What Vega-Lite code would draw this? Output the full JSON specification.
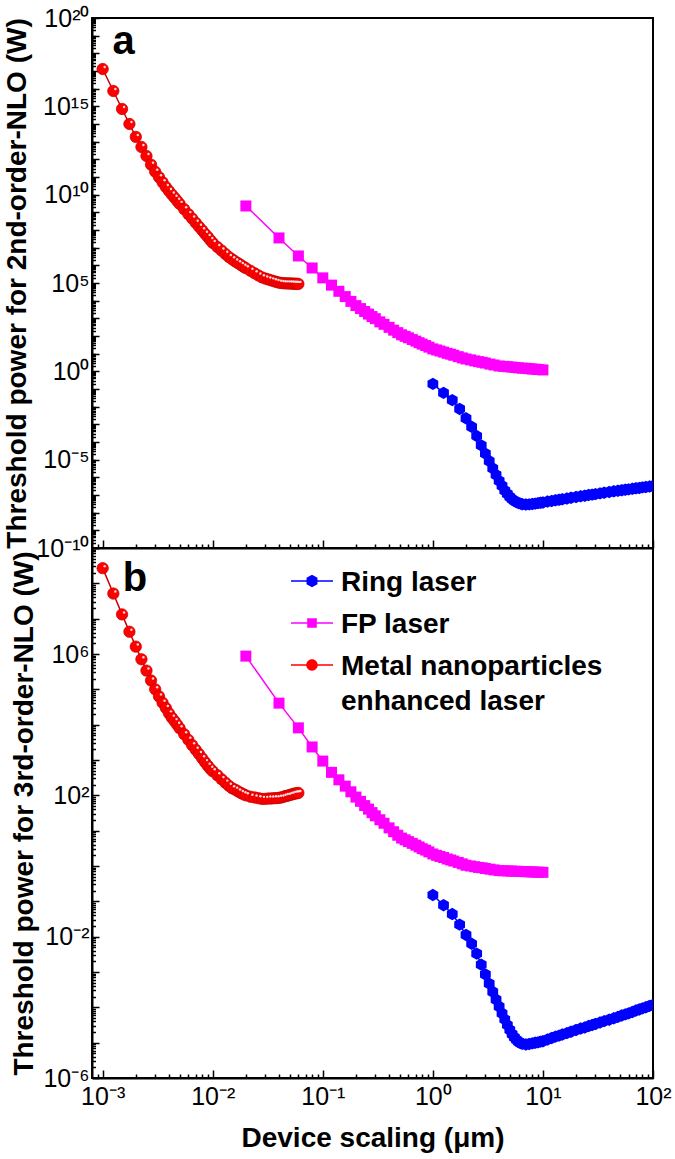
{
  "$schema": "https://vega.github.io/schema/vega-lite/v6.json",
  "background": "white",
  "padding": {"left": 2, "top": 5, "right": 0, "bottom": 0},
  "bounds": "flush",
  "spacing": 0,
  "config": {
    "font": "Liberation Sans",
    "view": {"stroke": "black", "strokeWidth": 2},
    "style": {"guide-label": {"lineHeight": 35}},
    "axis": {"domainColor": "black", "domainWidth": 2, "tickColor": "black", "tickWidth": 1.5, "labelColor": "black", "titleColor": "black", "labelFont": "Liberation Sans", "titleFont": "Liberation Sans", "labelFontSize": 25, "titleFontSize": 28, "titleFontWeight": "bold", "grid": false, "labelFlush": false, "labelOverlap": false},
    "legend": {"orient": "none", "legendX": 206, "legendY": 537, "title": null, "padding": 0,
      "labelFontSize": 28, "labelFontWeight": "bold", "labelFont": "Liberation Sans", "labelColor": "black", "labelLimit": 500, "labelBaseline": "top",
      "labelOffset": 15, "rowPadding": -14.5, "symbolSize": 144, "symbolOpacity": 1, "symbolStrokeWidth": 0}
  },
  "datasets": {
    "lab": [{"t": "a", "x": 0.00123, "p2": 9.1e17}, {"t": "b", "x": 0.00152, "p3": 6.0e7}],
    "d": [
      {"s": "Metal nanoparticles enhanced laser", "x": 0.001, "p2": 1.29e17, "p3": 2.69e8},
      {"s": "Metal nanoparticles enhanced laser", "x": 0.00125, "p2": 7.41e15, "p3": 5.13e7},
      {"s": "Metal nanoparticles enhanced laser", "x": 0.0015, "p2": 7.08e14, "p3": 1.32e7},
      {"s": "Metal nanoparticles enhanced laser", "x": 0.00175, "p2": 1.0e14, "p3": 4.27e6},
      {"s": "Metal nanoparticles enhanced laser", "x": 0.002, "p2": 1.86e13, "p3": 1.62e6},
      {"s": "Metal nanoparticles enhanced laser", "x": 0.00225, "p2": 5.01e12, "p3": 7.08e5},
      {"s": "Metal nanoparticles enhanced laser", "x": 0.0025, "p2": 1.55e12, "p3": 3.39e5},
      {"s": "Metal nanoparticles enhanced laser", "x": 0.00275, "p2": 5.01e11, "p3": 1.78e5},
      {"s": "Metal nanoparticles enhanced laser", "x": 0.003, "p2": 2.0e11, "p3": 1.0e5},
      {"s": "Metal nanoparticles enhanced laser", "x": 0.00325, "p2": 9.77e10, "p3": 6.31e4},
      {"s": "Metal nanoparticles enhanced laser", "x": 0.0035, "p2": 5.01e10, "p3": 4.17e4},
      {"s": "Metal nanoparticles enhanced laser", "x": 0.00375, "p2": 2.69e10, "p3": 2.95e4},
      {"s": "Metal nanoparticles enhanced laser", "x": 0.004, "p2": 1.62e10, "p3": 2.09e4},
      {"s": "Metal nanoparticles enhanced laser", "x": 0.00425, "p2": 1.02e10, "p3": 1.58e4},
      {"s": "Metal nanoparticles enhanced laser", "x": 0.0045, "p2": 6.76e9, "p3": 1.26e4},
      {"s": "Metal nanoparticles enhanced laser", "x": 0.00475, "p2": 4.47e9, "p3": 1.0e4},
      {"s": "Metal nanoparticles enhanced laser", "x": 0.005, "p2": 3.02e9, "p3": 7.94e3},
      {"s": "Metal nanoparticles enhanced laser", "x": 0.0055, "p2": 1.51e9, "p3": 5.37e3},
      {"s": "Metal nanoparticles enhanced laser", "x": 0.006, "p2": 7.94e8, "p3": 3.72e3},
      {"s": "Metal nanoparticles enhanced laser", "x": 0.0065, "p2": 4.47e8, "p3": 2.63e3},
      {"s": "Metal nanoparticles enhanced laser", "x": 0.007, "p2": 2.57e8, "p3": 1.95e3},
      {"s": "Metal nanoparticles enhanced laser", "x": 0.0075, "p2": 1.55e8, "p3": 1.48e3},
      {"s": "Metal nanoparticles enhanced laser", "x": 0.008, "p2": 9.77e7, "p3": 1.12e3},
      {"s": "Metal nanoparticles enhanced laser", "x": 0.0085, "p2": 6.17e7, "p3": 871},
      {"s": "Metal nanoparticles enhanced laser", "x": 0.009, "p2": 4.07e7, "p3": 692},
      {"s": "Metal nanoparticles enhanced laser", "x": 0.0095, "p2": 2.69e7, "p3": 562},
      {"s": "Metal nanoparticles enhanced laser", "x": 0.01, "p2": 1.86e7, "p3": 479},
      {"s": "Metal nanoparticles enhanced laser", "x": 0.011, "p2": 1.1e7, "p3": 372},
      {"s": "Metal nanoparticles enhanced laser", "x": 0.012, "p2": 6.92e6, "p3": 288},
      {"s": "Metal nanoparticles enhanced laser", "x": 0.013, "p2": 4.47e6, "p3": 229},
      {"s": "Metal nanoparticles enhanced laser", "x": 0.014, "p2": 2.95e6, "p3": 186},
      {"s": "Metal nanoparticles enhanced laser", "x": 0.015, "p2": 2.19e6, "p3": 158},
      {"s": "Metal nanoparticles enhanced laser", "x": 0.016, "p2": 1.66e6, "p3": 145},
      {"s": "Metal nanoparticles enhanced laser", "x": 0.017, "p2": 1.32e6, "p3": 129},
      {"s": "Metal nanoparticles enhanced laser", "x": 0.018, "p2": 1.05e6, "p3": 117},
      {"s": "Metal nanoparticles enhanced laser", "x": 0.019, "p2": 8.32e5, "p3": 107},
      {"s": "Metal nanoparticles enhanced laser", "x": 0.02, "p2": 6.92e5, "p3": 100},
      {"s": "Metal nanoparticles enhanced laser", "x": 0.022, "p2": 4.9e5, "p3": 91.2},
      {"s": "Metal nanoparticles enhanced laser", "x": 0.024, "p2": 3.55e5, "p3": 87.1},
      {"s": "Metal nanoparticles enhanced laser", "x": 0.026, "p2": 2.69e5, "p3": 83.2},
      {"s": "Metal nanoparticles enhanced laser", "x": 0.028, "p2": 2.09e5, "p3": 79.4},
      {"s": "Metal nanoparticles enhanced laser", "x": 0.03, "p2": 1.78e5, "p3": 79.4},
      {"s": "Metal nanoparticles enhanced laser", "x": 0.032, "p2": 1.58e5, "p3": 81.3},
      {"s": "Metal nanoparticles enhanced laser", "x": 0.034, "p2": 1.41e5, "p3": 81.3},
      {"s": "Metal nanoparticles enhanced laser", "x": 0.036, "p2": 1.26e5, "p3": 83.2},
      {"s": "Metal nanoparticles enhanced laser", "x": 0.038, "p2": 1.15e5, "p3": 83.2},
      {"s": "Metal nanoparticles enhanced laser", "x": 0.04, "p2": 1.05e5, "p3": 85.1},
      {"s": "Metal nanoparticles enhanced laser", "x": 0.042, "p2": 1.0e5, "p3": 87.1},
      {"s": "Metal nanoparticles enhanced laser", "x": 0.044, "p2": 9.77e4, "p3": 91.2},
      {"s": "Metal nanoparticles enhanced laser", "x": 0.046, "p2": 9.55e4, "p3": 95.5},
      {"s": "Metal nanoparticles enhanced laser", "x": 0.048, "p2": 9.55e4, "p3": 97.7},
      {"s": "Metal nanoparticles enhanced laser", "x": 0.05, "p2": 9.33e4, "p3": 102},
      {"s": "Metal nanoparticles enhanced laser", "x": 0.052, "p2": 9.33e4, "p3": 105},
      {"s": "Metal nanoparticles enhanced laser", "x": 0.054, "p2": 9.12e4, "p3": 110},
      {"s": "Metal nanoparticles enhanced laser", "x": 0.056, "p2": 9.12e4, "p3": 112},
      {"s": "Metal nanoparticles enhanced laser", "x": 0.058, "p2": 8.91e4, "p3": 115},
      {"s": "Metal nanoparticles enhanced laser", "x": 0.06, "p2": 8.91e4, "p3": 117},
      {"s": "FP laser", "x": 0.02, "p2": 2.29e9, "p3": 8.71e5},
      {"s": "FP laser", "x": 0.04, "p2": 3.55e7, "p3": 4.07e4},
      {"s": "FP laser", "x": 0.06, "p2": 3.39e6, "p3": 8.13e3},
      {"s": "FP laser", "x": 0.08, "p2": 7.08e5, "p3": 2.34e3},
      {"s": "FP laser", "x": 0.1, "p2": 1.95e5, "p3": 933},
      {"s": "FP laser", "x": 0.12, "p2": 7.59e4, "p3": 447},
      {"s": "FP laser", "x": 0.14, "p2": 3.39e4, "p3": 275},
      {"s": "FP laser", "x": 0.16, "p2": 1.7e4, "p3": 182},
      {"s": "FP laser", "x": 0.18, "p2": 9.12e3, "p3": 126},
      {"s": "FP laser", "x": 0.2, "p2": 5.25e3, "p3": 89.1},
      {"s": "FP laser", "x": 0.22, "p2": 3.55e3, "p3": 67.6},
      {"s": "FP laser", "x": 0.24, "p2": 2.45e3, "p3": 51.3},
      {"s": "FP laser", "x": 0.26, "p2": 1.74e3, "p3": 40.7},
      {"s": "FP laser", "x": 0.28, "p2": 1.26e3, "p3": 32.4},
      {"s": "FP laser", "x": 0.3, "p2": 955, "p3": 26.3},
      {"s": "FP laser", "x": 0.33, "p2": 631, "p3": 20.4},
      {"s": "FP laser", "x": 0.36, "p2": 457, "p3": 16.2},
      {"s": "FP laser", "x": 0.4, "p2": 309, "p3": 12.0},
      {"s": "FP laser", "x": 0.44, "p2": 214, "p3": 9.33},
      {"s": "FP laser", "x": 0.48, "p2": 155, "p3": 7.41},
      {"s": "FP laser", "x": 0.52, "p2": 117, "p3": 6.17},
      {"s": "FP laser", "x": 0.56, "p2": 95.5, "p3": 5.5},
      {"s": "FP laser", "x": 0.6, "p2": 79.4, "p3": 4.9},
      {"s": "FP laser", "x": 0.65, "p2": 63.1, "p3": 4.37},
      {"s": "FP laser", "x": 0.7, "p2": 51.3, "p3": 3.89},
      {"s": "FP laser", "x": 0.75, "p2": 41.7, "p3": 3.47},
      {"s": "FP laser", "x": 0.8, "p2": 34.7, "p3": 3.09},
      {"s": "FP laser", "x": 0.86, "p2": 28.8, "p3": 2.82},
      {"s": "FP laser", "x": 0.92, "p2": 23.4, "p3": 2.51},
      {"s": "FP laser", "x": 1.0, "p2": 18.6, "p3": 2.19},
      {"s": "FP laser", "x": 1.08, "p2": 16.2, "p3": 2.0},
      {"s": "FP laser", "x": 1.16, "p2": 14.1, "p3": 1.86},
      {"s": "FP laser", "x": 1.25, "p2": 12.3, "p3": 1.74},
      {"s": "FP laser", "x": 1.35, "p2": 10.5, "p3": 1.58},
      {"s": "FP laser", "x": 1.45, "p2": 9.33, "p3": 1.48},
      {"s": "FP laser", "x": 1.55, "p2": 8.13, "p3": 1.38},
      {"s": "FP laser", "x": 1.7, "p2": 6.76, "p3": 1.26},
      {"s": "FP laser", "x": 1.85, "p2": 5.75, "p3": 1.15},
      {"s": "FP laser", "x": 2.0, "p2": 5.01, "p3": 1.05},
      {"s": "FP laser", "x": 2.2, "p2": 4.47, "p3": 1.0},
      {"s": "FP laser", "x": 2.4, "p2": 3.89, "p3": 0.955},
      {"s": "FP laser", "x": 2.6, "p2": 3.55, "p3": 0.912},
      {"s": "FP laser", "x": 2.8, "p2": 3.24, "p3": 0.891},
      {"s": "FP laser", "x": 3.0, "p2": 2.95, "p3": 0.851},
      {"s": "FP laser", "x": 3.3, "p2": 2.57, "p3": 0.813},
      {"s": "FP laser", "x": 3.6, "p2": 2.29, "p3": 0.776},
      {"s": "FP laser", "x": 4.0, "p2": 2.0, "p3": 0.741},
      {"s": "FP laser", "x": 4.4, "p2": 1.91, "p3": 0.733},
      {"s": "FP laser", "x": 4.8, "p2": 1.82, "p3": 0.724},
      {"s": "FP laser", "x": 5.2, "p2": 1.74, "p3": 0.718},
      {"s": "FP laser", "x": 5.6, "p2": 1.66, "p3": 0.711},
      {"s": "FP laser", "x": 6.0, "p2": 1.58, "p3": 0.705},
      {"s": "FP laser", "x": 6.5, "p2": 1.51, "p3": 0.697},
      {"s": "FP laser", "x": 7.0, "p2": 1.48, "p3": 0.692},
      {"s": "FP laser", "x": 7.5, "p2": 1.41, "p3": 0.685},
      {"s": "FP laser", "x": 8.0, "p2": 1.35, "p3": 0.679},
      {"s": "FP laser", "x": 8.6, "p2": 1.32, "p3": 0.673},
      {"s": "FP laser", "x": 9.2, "p2": 1.26, "p3": 0.667},
      {"s": "FP laser", "x": 10, "p2": 1.2, "p3": 0.661},
      {"s": "Ring laser", "x": 1, "p2": 0.195, "p3": 0.151},
      {"s": "Ring laser", "x": 1.25, "p2": 0.0603, "p3": 0.0776},
      {"s": "Ring laser", "x": 1.5, "p2": 0.0234, "p3": 0.0437},
      {"s": "Ring laser", "x": 1.75, "p2": 7.41e-3, "p3": 0.0219},
      {"s": "Ring laser", "x": 2, "p2": 2.19e-3, "p3": 0.0112},
      {"s": "Ring laser", "x": 2.25, "p2": 7.24e-4, "p3": 6.31e-3},
      {"s": "Ring laser", "x": 2.5, "p2": 2.19e-4, "p3": 3.31e-3},
      {"s": "Ring laser", "x": 2.75, "p2": 6.46e-5, "p3": 1.62e-3},
      {"s": "Ring laser", "x": 3, "p2": 2.19e-5, "p3": 8.51e-4},
      {"s": "Ring laser", "x": 3.25, "p2": 8.32e-6, "p3": 4.68e-4},
      {"s": "Ring laser", "x": 3.5, "p2": 3.24e-6, "p3": 2.75e-4},
      {"s": "Ring laser", "x": 3.75, "p2": 1.38e-6, "p3": 1.66e-4},
      {"s": "Ring laser", "x": 4, "p2": 6.31e-7, "p3": 1.05e-4},
      {"s": "Ring laser", "x": 4.25, "p2": 3.31e-7, "p3": 6.76e-5},
      {"s": "Ring laser", "x": 4.5, "p2": 1.78e-7, "p3": 4.57e-5},
      {"s": "Ring laser", "x": 4.75, "p2": 1.15e-7, "p3": 3.16e-5},
      {"s": "Ring laser", "x": 5, "p2": 7.76e-8, "p3": 2.29e-5},
      {"s": "Ring laser", "x": 5.25, "p2": 5.75e-8, "p3": 1.74e-5},
      {"s": "Ring laser", "x": 5.5, "p2": 4.68e-8, "p3": 1.41e-5},
      {"s": "Ring laser", "x": 5.75, "p2": 3.98e-8, "p3": 1.2e-5},
      {"s": "Ring laser", "x": 6, "p2": 3.47e-8, "p3": 1.05e-5},
      {"s": "Ring laser", "x": 6.25, "p2": 3.24e-8, "p3": 9.77e-6},
      {"s": "Ring laser", "x": 6.5, "p2": 3.02e-8, "p3": 9.33e-6},
      {"s": "Ring laser", "x": 7, "p2": 2.88e-8, "p3": 8.91e-6},
      {"s": "Ring laser", "x": 7.5, "p2": 2.95e-8, "p3": 9.2e-6},
      {"s": "Ring laser", "x": 8, "p2": 3.09e-8, "p3": 9.55e-6},
      {"s": "Ring laser", "x": 8.5, "p2": 3.24e-8, "p3": 1.0e-5},
      {"s": "Ring laser", "x": 9, "p2": 3.47e-8, "p3": 1.02e-5},
      {"s": "Ring laser", "x": 9.5, "p2": 3.63e-8, "p3": 1.07e-5},
      {"s": "Ring laser", "x": 10, "p2": 3.8e-8, "p3": 1.1e-5},
      {"s": "Ring laser", "x": 11, "p2": 4.27e-8, "p3": 1.23e-5},
      {"s": "Ring laser", "x": 12, "p2": 4.57e-8, "p3": 1.35e-5},
      {"s": "Ring laser", "x": 13, "p2": 5.01e-8, "p3": 1.48e-5},
      {"s": "Ring laser", "x": 14, "p2": 5.37e-8, "p3": 1.58e-5},
      {"s": "Ring laser", "x": 15, "p2": 5.75e-8, "p3": 1.7e-5},
      {"s": "Ring laser", "x": 16.5, "p2": 6.31e-8, "p3": 1.86e-5},
      {"s": "Ring laser", "x": 18, "p2": 6.92e-8, "p3": 2.04e-5},
      {"s": "Ring laser", "x": 20, "p2": 7.76e-8, "p3": 2.29e-5},
      {"s": "Ring laser", "x": 22, "p2": 8.51e-8, "p3": 2.51e-5},
      {"s": "Ring laser", "x": 24, "p2": 9.12e-8, "p3": 2.69e-5},
      {"s": "Ring laser", "x": 26, "p2": 1.0e-7, "p3": 2.95e-5},
      {"s": "Ring laser", "x": 28, "p2": 1.05e-7, "p3": 3.16e-5},
      {"s": "Ring laser", "x": 30, "p2": 1.12e-7, "p3": 3.39e-5},
      {"s": "Ring laser", "x": 33, "p2": 1.23e-7, "p3": 3.72e-5},
      {"s": "Ring laser", "x": 36, "p2": 1.35e-7, "p3": 4.07e-5},
      {"s": "Ring laser", "x": 40, "p2": 1.48e-7, "p3": 4.47e-5},
      {"s": "Ring laser", "x": 44, "p2": 1.62e-7, "p3": 4.9e-5},
      {"s": "Ring laser", "x": 48, "p2": 1.74e-7, "p3": 5.37e-5},
      {"s": "Ring laser", "x": 52, "p2": 1.86e-7, "p3": 5.89e-5},
      {"s": "Ring laser", "x": 56, "p2": 2.0e-7, "p3": 6.31e-5},
      {"s": "Ring laser", "x": 60, "p2": 2.09e-7, "p3": 6.76e-5},
      {"s": "Ring laser", "x": 65, "p2": 2.24e-7, "p3": 7.41e-5},
      {"s": "Ring laser", "x": 70, "p2": 2.4e-7, "p3": 8.13e-5},
      {"s": "Ring laser", "x": 75, "p2": 2.51e-7, "p3": 8.71e-5},
      {"s": "Ring laser", "x": 80, "p2": 2.69e-7, "p3": 9.33e-5},
      {"s": "Ring laser", "x": 86, "p2": 2.82e-7, "p3": 1.0e-4},
      {"s": "Ring laser", "x": 93, "p2": 3.02e-7, "p3": 1.1e-4},
      {"s": "Ring laser", "x": 100, "p2": 3.24e-7, "p3": 1.17e-4}
    ]
  },
  "resolve": {"scale": {"color": "shared", "shape": "shared", "stroke": "independent"}, "legend": {"color": "shared", "shape": "shared", "stroke": "independent"}},
  "vconcat": [
    {
      "width": 561,
      "height": 530,
      "encoding": {
        "x": {"field": "x", "type": "quantitative", "scale": {"type": "log", "domain": [0.0008, 100], "nice": false},
          "axis": {"values": [0.0009,0.001,0.002,0.003,0.004,0.005,0.006,0.007,0.008,0.009,0.01,0.02,0.03,0.04,0.05,0.06,0.07,0.08,0.09,0.1,0.2,0.3,0.4,0.5,0.6,0.7,0.8,0.9,1,2,3,4,5,6,7,8,9,10,20,30,40,50,60,70,80,90,100],
            "labels": false, "title": null,
            "tickSize": {"condition": {"test": "abs(log(datum.value)/LN10 - round(log(datum.value)/LN10)) < 0.001", "value": -8}, "value": -4}}},
        "y": {"field": "p2", "type": "quantitative", "scale": {"type": "log", "domain": [1e-10, 1e20], "nice": false},
          "axis": {"values": [1e-10,2e-10,3e-10,4e-10,5e-10,6e-10,7e-10,8e-10,9e-10,1e-9,2e-9,3e-9,4e-9,5e-9,6e-9,7e-9,8e-9,9e-9,1e-8,2e-8,3e-8,4e-8,5e-8,6e-8,7e-8,8e-8,9e-8,1e-7,2e-7,3e-7,4e-7,5e-7,6e-7,7e-7,8e-7,9e-7,1e-6,2e-6,3e-6,4e-6,5e-6,6e-6,7e-6,8e-6,9e-6,1e-5,2e-5,3e-5,4e-5,5e-5,6e-5,7e-5,8e-5,9e-5,1e-4,2e-4,3e-4,4e-4,5e-4,6e-4,7e-4,8e-4,9e-4,1e-3,2e-3,3e-3,4e-3,5e-3,6e-3,7e-3,8e-3,9e-3,1e-2,2e-2,3e-2,4e-2,5e-2,6e-2,7e-2,8e-2,9e-2,1e-1,2e-1,3e-1,4e-1,5e-1,6e-1,7e-1,8e-1,9e-1,1e0,2e0,3e0,4e0,5e0,6e0,7e0,8e0,9e0,1e1,2e1,3e1,4e1,5e1,6e1,7e1,8e1,9e1,1e2,2e2,3e2,4e2,5e2,6e2,7e2,8e2,9e2,1e3,2e3,3e3,4e3,5e3,6e3,7e3,8e3,9e3,1e4,2e4,3e4,4e4,5e4,6e4,7e4,8e4,9e4,1e5,2e5,3e5,4e5,5e5,6e5,7e5,8e5,9e5,1e6,2e6,3e6,4e6,5e6,6e6,7e6,8e6,9e6,1e7,2e7,3e7,4e7,5e7,6e7,7e7,8e7,9e7,1e8,2e8,3e8,4e8,5e8,6e8,7e8,8e8,9e8,1e9,2e9,3e9,4e9,5e9,6e9,7e9,8e9,9e9,1e10,2e10,3e10,4e10,5e10,6e10,7e10,8e10,9e10,1e11,2e11,3e11,4e11,5e11,6e11,7e11,8e11,9e11,1e12,2e12,3e12,4e12,5e12,6e12,7e12,8e12,9e12,1e13,2e13,3e13,4e13,5e13,6e13,7e13,8e13,9e13,1e14,2e14,3e14,4e14,5e14,6e14,7e14,8e14,9e14,1e15,2e15,3e15,4e15,5e15,6e15,7e15,8e15,9e15,1e16,2e16,3e16,4e16,5e16,6e16,7e16,8e16,9e16,1e17,2e17,3e17,4e17,5e17,6e17,7e17,8e17,9e17,1e18,2e18,3e18,4e18,5e18,6e18,7e18,8e18,9e18,1e19,2e19,3e19,4e19,5e19,6e19,7e19,8e19,9e19,1e20],
            "labelExpr": "abs(log(datum.value)/LN10 - round(log(datum.value)/LN10)) < 0.001 && round(log(datum.value)/LN10) % 5 == 0 ? ['10⁻¹⁰','10⁻⁵','10⁰','10⁵','10¹⁰','10¹⁵','10²⁰'][(round(log(datum.value)/LN10)+10)/5] : ''",
            "labelPadding": 10, "title": "Threshold power for 2nd-order-NLO (W)", "titlePadding": 4,
            "tickSize": {"condition": {"test": "abs(log(datum.value)/LN10 - round(log(datum.value)/LN10)) < 0.001", "value": -7}, "value": -3.5}}}
      },
      "layer": [
        {"data": {"name": "d"}, "mark": {"type": "line", "strokeWidth": 1.5, "clip": true},
          "encoding": {"stroke": {"field": "s", "type": "nominal", "scale": {"domain": ["Ring laser", "FP laser", "Metal nanoparticles enhanced laser"], "range": ["#0000ff", "#ff00ff", "#cc0000"]}, "legend": null}}},
        {"data": {"name": "d"}, "transform": [{"filter": "datum.s == 'Ring laser'"}],
          "mark": {"type": "point", "filled": true, "size": 140, "opacity": 1, "color": "#0000ff", "shape": "M0,-1.05L0.91,-0.525L0.91,0.525L0,1.05L-0.91,0.525L-0.91,-0.525Z", "clip": true}, "encoding": {}},
        {"data": {"name": "d"}, "transform": [{"filter": "datum.s == 'FP laser'"}],
          "mark": {"type": "point", "filled": true, "size": 121, "opacity": 1, "color": "#ff00ff", "shape": "square", "clip": true}, "encoding": {}},
        {"data": {"name": "d"}, "transform": [{"filter": "datum.s == 'Metal nanoparticles enhanced laser'"}],
          "mark": {"type": "point", "filled": true, "size": 130, "opacity": 1, "color": "#ff0000", "stroke": "#c00000", "strokeWidth": 0.7, "shape": "circle", "clip": true}, "encoding": {}},
        {"data": {"name": "d"}, "transform": [{"filter": "datum.s == 'Metal nanoparticles enhanced laser'"}],
          "mark": {"type": "point", "filled": true, "size": 6, "color": "white", "opacity": 0.85, "xOffset": 2, "yOffset": -2, "clip": true}, "encoding": {}},
        {"data": {"name": "lab"}, "transform": [{"filter": "datum.t == 'a'"}],
          "mark": {"type": "text", "fontSize": 40, "fontWeight": "bold", "font": "Liberation Sans", "align": "left", "baseline": "alphabetic", "color": "black"},
          "encoding": {"text": {"field": "t"}}}
      ]
    },
    {
      "width": 561,
      "height": 530,
      "encoding": {
        "x": {"field": "x", "type": "quantitative", "scale": {"type": "log", "domain": [0.0008, 100], "nice": false},
          "axis": {"values": [0.0009,0.001,0.002,0.003,0.004,0.005,0.006,0.007,0.008,0.009,0.01,0.02,0.03,0.04,0.05,0.06,0.07,0.08,0.09,0.1,0.2,0.3,0.4,0.5,0.6,0.7,0.8,0.9,1,2,3,4,5,6,7,8,9,10,20,30,40,50,60,70,80,90,100],
            "labelExpr": "abs(log(datum.value)/LN10 - round(log(datum.value)/LN10)) < 0.001 ? ['10⁻³','10⁻²','10⁻¹','10⁰','10¹','10²'][round(log(datum.value)/LN10)+3] : ''",
            "labelPadding": 14, "title": "Device scaling (μm)", "titlePadding": 11,
            "tickSize": {"condition": {"test": "abs(log(datum.value)/LN10 - round(log(datum.value)/LN10)) < 0.001", "value": -8}, "value": -4}}},
        "y": {"field": "p3", "type": "quantitative", "scale": {"type": "log", "domain": [1e-6, 1e9], "nice": false},
          "axis": {"values": [1e-6,2e-6,3e-6,4e-6,5e-6,6e-6,7e-6,8e-6,9e-6,1e-5,2e-5,3e-5,4e-5,5e-5,6e-5,7e-5,8e-5,9e-5,1e-4,2e-4,3e-4,4e-4,5e-4,6e-4,7e-4,8e-4,9e-4,1e-3,2e-3,3e-3,4e-3,5e-3,6e-3,7e-3,8e-3,9e-3,1e-2,2e-2,3e-2,4e-2,5e-2,6e-2,7e-2,8e-2,9e-2,1e-1,2e-1,3e-1,4e-1,5e-1,6e-1,7e-1,8e-1,9e-1,1e0,2e0,3e0,4e0,5e0,6e0,7e0,8e0,9e0,1e1,2e1,3e1,4e1,5e1,6e1,7e1,8e1,9e1,1e2,2e2,3e2,4e2,5e2,6e2,7e2,8e2,9e2,1e3,2e3,3e3,4e3,5e3,6e3,7e3,8e3,9e3,1e4,2e4,3e4,4e4,5e4,6e4,7e4,8e4,9e4,1e5,2e5,3e5,4e5,5e5,6e5,7e5,8e5,9e5,1e6,2e6,3e6,4e6,5e6,6e6,7e6,8e6,9e6,1e7,2e7,3e7,4e7,5e7,6e7,7e7,8e7,9e7,1e8,2e8,3e8,4e8,5e8,6e8,7e8,8e8,9e8,1e9],
            "labelExpr": "abs(log(datum.value)/LN10 - round(log(datum.value)/LN10)) < 0.001 && (round(log(datum.value)/LN10) + 6) % 4 == 0 ? ['10⁻⁶','10⁻²','10²','10⁶'][(round(log(datum.value)/LN10)+6)/4] : ''",
            "labelPadding": 10, "title": "Threshold power for 3rd-order-NLO (W)", "titlePadding": 4,
            "tickSize": {"condition": {"test": "abs(log(datum.value)/LN10 - round(log(datum.value)/LN10)) < 0.001", "value": -7}, "value": -3.5}}}
      },
      "layer": [
        {"data": {"name": "d"}, "mark": {"type": "line", "strokeWidth": 1.5, "clip": true},
          "encoding": {"stroke": {"field": "s", "type": "nominal", "scale": {"domain": ["Ring laser", "FP laser", "Metal nanoparticles enhanced laser"], "range": ["#0000ff", "#ff00ff", "#cc0000"]}, "legend": null}}},
        {"data": {"name": "d"}, "transform": [{"filter": "datum.s == 'Ring laser'"}],
          "mark": {"type": "point", "filled": true, "size": 140, "opacity": 1, "color": "#0000ff", "shape": "M0,-1.05L0.91,-0.525L0.91,0.525L0,1.05L-0.91,0.525L-0.91,-0.525Z", "clip": true}, "encoding": {}},
        {"data": {"name": "d"}, "transform": [{"filter": "datum.s == 'FP laser'"}],
          "mark": {"type": "point", "filled": true, "size": 121, "opacity": 1, "color": "#ff00ff", "shape": "square", "clip": true}, "encoding": {}},
        {"data": {"name": "d"}, "transform": [{"filter": "datum.s == 'Metal nanoparticles enhanced laser'"}],
          "mark": {"type": "point", "filled": true, "size": 130, "opacity": 1, "color": "#ff0000", "stroke": "#c00000", "strokeWidth": 0.7, "shape": "circle", "clip": true}, "encoding": {}},
        {"data": {"name": "d"}, "transform": [{"filter": "datum.s == 'Metal nanoparticles enhanced laser'"}],
          "mark": {"type": "point", "filled": true, "size": 6, "color": "white", "opacity": 0.85, "xOffset": 2, "yOffset": -2, "clip": true}, "encoding": {}},
        {"data": {"name": "d"}, "transform": [{"filter": "false"}],
          "mark": {"type": "point", "filled": true, "opacity": 1},
          "encoding": {
            "color": {"field": "s", "type": "nominal", "scale": {"domain": ["Ring laser", "FP laser", "Metal nanoparticles enhanced laser"], "range": ["#0000ff", "#ff00ff", "#ff0000"]},
              "legend": {"labelExpr": "datum.label == 'Metal nanoparticles enhanced laser' ? ['Metal nanoparticles', 'enhanced laser'] : datum.label"}},
            "shape": {"field": "s", "type": "nominal", "scale": {"domain": ["Ring laser", "FP laser", "Metal nanoparticles enhanced laser"], "range": ["M-3.5,1.87H3.5V2.13H-3.5Z M0,0.95L0.91,1.475L0.91,2.525L0,3.05L-0.91,2.525L-0.91,1.475Z", "M-3.5,1.87H3.5V2.13H-3.5Z M-0.8,1.2H0.8V2.8H-0.8Z", "M-3.5,1.87H3.5V2.13H-3.5Z M0,1.05A0.95,0.95 0 1,1 0,2.95A0.95,0.95 0 1,1 0,1.05Z"]},
              "legend": {"labelExpr": "datum.label == 'Metal nanoparticles enhanced laser' ? ['Metal nanoparticles', 'enhanced laser'] : datum.label"}}}},
        {"data": {"name": "lab"}, "transform": [{"filter": "datum.t == 'b'"}],
          "mark": {"type": "text", "fontSize": 40, "fontWeight": "bold", "font": "Liberation Sans", "align": "left", "baseline": "alphabetic", "color": "black"},
          "encoding": {"text": {"field": "t"}}}
      ]
    }
  ]
}
